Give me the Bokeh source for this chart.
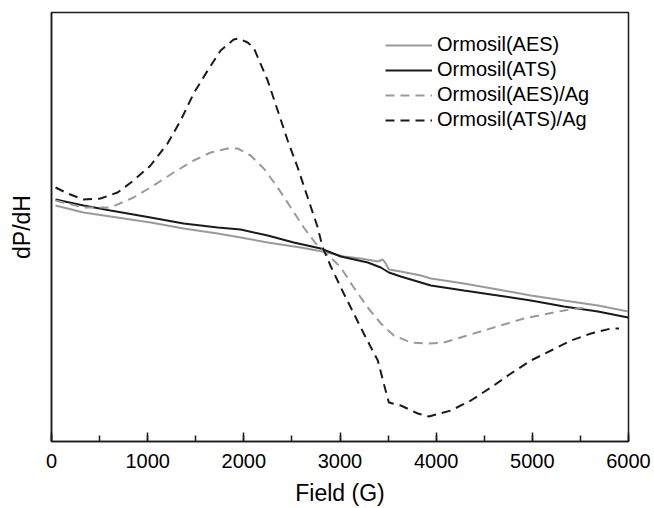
from bokeh.plotting import figure
from bokeh.models import SingleIntervalTicker, FixedTicker, Range1d
from bokeh.embed import file_html
from bokeh.resources import INLINE

# ---- data (Field in G, dP/dH in arbitrary units) ----
aes_x = [42, 333, 614, 1030, 1374, 1728, 1967, 2248, 2592, 2873, 3039, 3216, 3393, 3445,
         3476, 3508, 3632, 3841, 3945, 4288, 4642, 4985, 5329, 5683, 5995]
aes_y = [45, 38, 34, 28, 22, 17, 13, 8, 3, -2, -6, -8, -11, -9,
         -13, -19, -21, -25, -28, -33, -39, -45, -50, -55, -61]

ats_x = [42, 333, 614, 1030, 1374, 1728, 1967, 2248, 2519, 2800, 3008, 3289, 3424, 3508,
         3632, 3945, 4288, 4642, 4985, 5329, 5683, 5995]
ats_y = [51, 45, 40, 33, 27, 23, 21, 15, 8, 2, -6, -12, -17, -22,
         -26, -35, -40, -45, -50, -56, -61, -67]

aesag_x = [42, 333, 614, 853, 1062, 1270, 1478, 1655, 1832, 1936, 2071, 2207, 2352, 2488,
           2623, 2748, 2850, 3008, 3143, 3289, 3424, 3560, 3737, 3924, 4080, 4288, 4496,
           4704, 4913, 5121, 5329, 5475, 5579]
aesag_y = [50, 43, 43, 53, 65, 78, 90, 98, 102, 102, 95, 82, 63, 43,
           23, 7, -2, -17, -37, -57, -73, -85, -92, -93, -92, -86, -80,
           -74, -68, -64, -60, -58, -57]

atsag_x = [42, 167, 333, 510, 687, 853, 1030, 1207, 1343, 1478, 1624, 1759, 1894, 1946,
           2040, 2102, 2248, 2352, 2456, 2560, 2664, 2768, 2820, 2900, 3039, 3247, 3393,
           3455, 3508, 3632, 3809, 3924, 4153, 4361, 4569, 4777, 4985, 5194, 5402, 5610,
           5818, 5901]
atsag_y = [63, 57, 51, 52, 58, 70, 85, 107, 130, 157, 180, 200, 211, 212,
           208, 203, 170, 140, 110, 83, 53, 23, 3, -15, -43, -83, -110,
           -133, -152, -155, -163, -166, -160, -150, -137, -123, -110, -100, -90, -83,
           -78, -78]

x_ticks_interval = 1000
series = [
    ("Ormosil(AES)", aes_x, aes_y, "#9a9a9a", "solid"),
    ("Ormosil(ATS)", ats_x, ats_y, "#1a1a1a", "solid"),
    ("Ormosil(AES)/Ag", aesag_x, aesag_y, "#9a9a9a", "9 6"),
    ("Ormosil(ATS)/Ag", atsag_x, atsag_y, "#1a1a1a", "9 6"),
]

FONT = "Liberation Sans"

p = figure(width=654, height=508, output_backend="svg", toolbar_location=None,
           x_range=Range1d(0, 6000), y_range=Range1d(-191, 238),
           min_border_left=51, min_border_top=12, min_border_right=26, min_border_bottom=67)

for name, xs, ys, col, dash in series:
    p.line(xs, ys, line_color=col, line_width=2, line_dash=dash, legend_label=name)

p.grid.visible = False
p.outline_line_color = "#1a1a1a"
p.outline_line_width = 1.5
p.background_fill_color = "white"
p.border_fill_color = "white"

xa = p.xaxis[0]
xa.ticker = SingleIntervalTicker(interval=x_ticks_interval, num_minor_ticks=2)
xa.axis_label = "Field (G)"
xa.axis_label_text_font = FONT
xa.axis_label_text_font_size = "23px"
xa.axis_label_text_font_style = "normal"
xa.axis_label_text_color = "black"
xa.axis_label_standoff = 9
xa.major_label_text_font = FONT
xa.major_label_text_font_size = "20px"
xa.major_label_text_color = "black"
xa.major_label_standoff = 12
xa.axis_line_color = "#1a1a1a"
xa.axis_line_width = 1.5
xa.major_tick_in = 9
xa.major_tick_out = 0
xa.minor_tick_in = 6
xa.minor_tick_out = 0
xa.major_tick_line_color = "#1a1a1a"
xa.major_tick_line_width = 1.5
xa.minor_tick_line_color = "#1a1a1a"
xa.minor_tick_line_width = 1.5

ya = p.yaxis[0]
ya.ticker = FixedTicker(ticks=[])
ya.axis_label = "dP/dH"
ya.axis_label_text_font = FONT
ya.axis_label_text_font_size = "23px"
ya.axis_label_text_font_style = "normal"
ya.axis_label_text_color = "black"
ya.axis_label_standoff = 17
ya.axis_line_color = "#1a1a1a"
ya.axis_line_width = 1.5
ya.major_tick_line_color = None
ya.minor_tick_line_color = None

lg = p.legend[0]
lg.location = (334, 310)
lg.border_line_color = None
lg.background_fill_alpha = 0
lg.padding = 0
lg.margin = 0
lg.spacing = 2
lg.glyph_width = 47
lg.glyph_height = 20
lg.label_height = 20
lg.label_standoff = 5
lg.label_text_font = FONT
lg.label_text_font_size = "20px"
lg.label_text_color = "black"

open("out.html", "w").write(file_html(p, INLINE))
